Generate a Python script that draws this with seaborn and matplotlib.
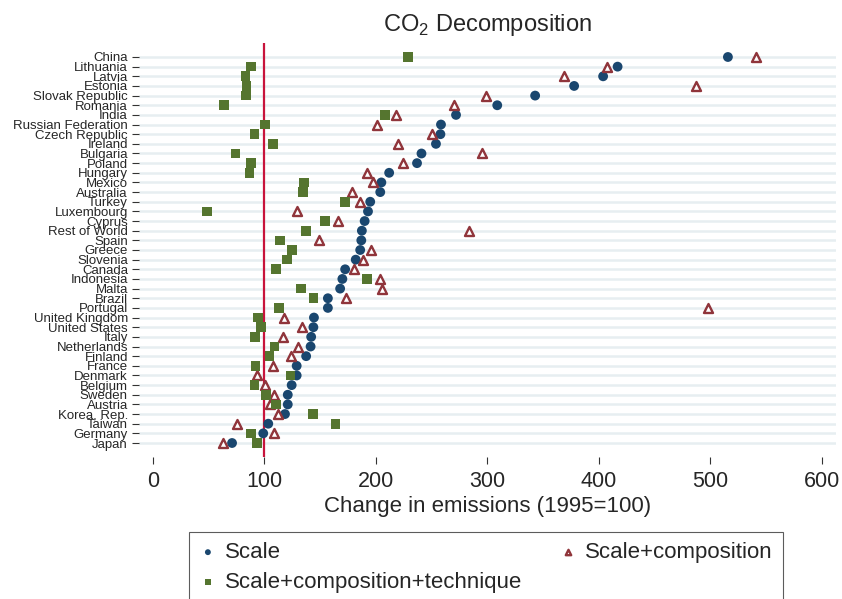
import pandas as pd
import matplotlib.pyplot as plt
import seaborn as sns

# Countries from top to bottom (1995=100)
countries = ["China", "Lithuania", "Latvia", "Estonia", "Slovak Republic", "Romania",
             "India", "Russian Federation", "Czech Republic", "Ireland", "Bulgaria",
             "Poland", "Hungary", "Mexico", "Australia", "Turkey", "Luxembourg", "Cyprus",
             "Rest of World", "Spain", "Greece", "Slovenia", "Canada", "Indonesia", "Malta",
             "Brazil", "Portugal", "United Kingdom", "United States", "Italy", "Netherlands",
             "Finland", "France", "Denmark", "Belgium", "Sweden", "Austria", "Korea, Rep.",
             "Taiwan", "Germany", "Japan"]
scale = [516, 417, 404, 378, 343, 309, 272, 258.5, 258, 254, 241, 237, 212, 205, 204,
         195, 193, 190, 187.5, 187, 186, 182, 172.5, 170, 168, 157, 157, 144.5, 144, 142,
         141.5, 137.5, 129, 129, 124.5, 121, 121, 118.5, 103.5, 99, 71]
scale_comp = [541, 407.5, 368.5, 487.5, 299, 270, 218.5, 201, 250, 220, 295.5, 224.5,
              192, 197.5, 179, 185.5, 129, 166, 284, 149, 196, 188.5, 180, 204, 205.5,
              173.5, 498, 118, 133.5, 116.5, 130, 124, 107.5, 93.5, 101, 109, 105.5,
              112.5, 75, 108.5, 63]
scale_comp_tech = [229, 88, 83, 84, 83.5, 64, 208, 100.5, 91, 108, 74, 88, 86.5, 135.5,
                   134.5, 172.5, 48.5, 154.5, 137.5, 114, 125, 120.5, 110.5, 192, 133, 144,
                   113, 94.5, 97, 91.5, 109, 104.5, 92, 123.5, 91, 101.5, 110.5, 143.5,
                   164, 88, 93.5]

df = pd.DataFrame({"country": countries, "scale": scale,
                   "scale_comp": scale_comp, "scale_comp_tech": scale_comp_tech})

sns.set_style("white")
plt.rcParams["font.family"] = ["Liberation Sans", "DejaVu Sans"]
plt.rcParams["mathtext.fontset"] = "custom"
plt.rcParams["mathtext.rm"] = "Liberation Sans"

navy = "#1a476f"
maroon = "#90353b"
green = "#55752f"

fig = plt.figure(figsize=(8.42, 5.99), dpi=100)
ax = fig.add_axes([139 / 842, 1 - 457 / 599, (836 - 139) / 842, (457 - 43) / 599])

# reference line at 1995 level
ax.axvline(100, color="#c8143c", lw=1.6, zorder=1)

sns.scatterplot(data=df, x="scale", y="country", marker="o", color=navy, s=50,
                edgecolor="none", label="Scale", ax=ax, zorder=3)
sns.scatterplot(data=df, x="scale_comp", y="country", marker="^", color="white",
                edgecolor=maroon, linewidth=1.7, s=42, label="Scale+composition",
                ax=ax, zorder=4)
sns.scatterplot(data=df, x="scale_comp_tech", y="country", marker="s", color=green,
                s=48, edgecolor="none", label="Scale+composition+technique",
                ax=ax, zorder=5)

ax.set_ylim(len(countries) - 1 + 1.45, -1.45)
ax.set_xlim(-12.5, 613)
ax.set_xticks([0, 100, 200, 300, 400, 500, 600])
ax.set_yticks(range(len(countries)))
ax.set_yticklabels(countries)

# light horizontal guide per country
for i in range(len(countries)):
    ax.axhline(i, color="#e7eef1", lw=1.8, zorder=0)

for s in ax.spines.values():
    s.set_visible(False)
ax.tick_params(axis="y", which="both", left=True, length=5, width=0.8, pad=3,
               labelsize=9.5, color="#333333")
ax.tick_params(axis="x", which="both", bottom=True, length=5, width=0.8, pad=5,
               labelsize=15.5, color="#333333")
ax.set_ylabel("")
ax.set_xlabel("Change in emissions (1995=100)", fontsize=16, labelpad=3)
ax.set_title(r"CO$_\mathregular{2}$ Decomposition", fontsize=17, pad=9)

handles, labels = ax.get_legend_handles_labels()
order = [0, 2, 1]
ax.legend([handles[i] for i in order], [labels[i] for i in order], ncol=2,
          loc="upper left", bbox_to_anchor=(189 / 842, 1 - 532 / 599),
          bbox_transform=fig.transFigure, borderaxespad=0, frameon=True,
          fancybox=False, edgecolor="#333333", fontsize=16, markerscale=0.6,
          handletextpad=0.35, columnspacing=1.7, labelspacing=0.4, borderpad=0.45,
          handlelength=0.8)
ax.get_legend().get_frame().set_linewidth(0.8)

fig.savefig("out.png", dpi=100)
